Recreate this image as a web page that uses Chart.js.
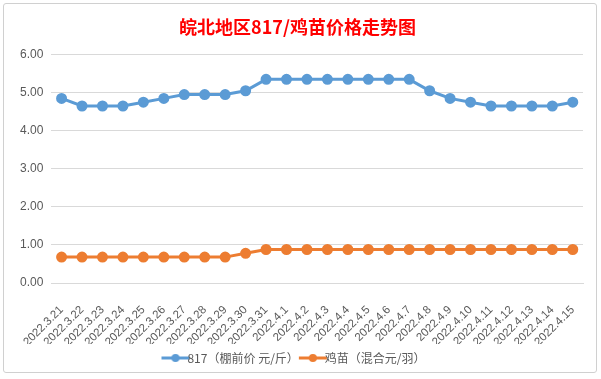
<!DOCTYPE html>
<html>
<head>
<meta charset="utf-8">
<script src="https://cdn.jsdelivr.net/npm/chart.js@4"></script>
<style>
  body { margin: 0; background: #fff; }
  #wrap { position: relative; width: 601px; height: 379px; }
  #frame { position: absolute; left: 3px; top: 3px; width: 592px; height: 368px;
           border: 1px solid #d0d0d0; border-radius: 3px; pointer-events: none; }
</style>
</head>
<body>
<div id="wrap">
  <canvas id="graph" width="601" height="379"></canvas>
  <div id="frame"></div>
</div>
<script>
var dates = ["2022.3.21", "2022.3.22", "2022.3.23", "2022.3.24", "2022.3.25", "2022.3.26",
    "2022.3.27", "2022.3.28", "2022.3.29", "2022.3.30", "2022.3.31", "2022.4.1", "2022.4.2",
    "2022.4.3", "2022.4.4", "2022.4.5", "2022.4.6", "2022.4.7", "2022.4.8", "2022.4.9",
    "2022.4.10", "2022.4.11", "2022.4.12", "2022.4.13", "2022.4.14", "2022.4.15"];

var price817 = [4.85, 4.65, 4.65, 4.65, 4.75, 4.85, 4.95, 4.95, 4.95, 5.05, 5.35, 5.35, 5.35,
    5.35, 5.35, 5.35, 5.35, 5.35, 5.05, 4.85, 4.75, 4.65, 4.65, 4.65, 4.65, 4.75];

var priceChick = [0.68, 0.68, 0.68, 0.68, 0.68, 0.68, 0.68, 0.68, 0.68, 0.78, 0.88, 0.88, 0.88,
    0.88, 0.88, 0.88, 0.88, 0.88, 0.88, 0.88, 0.88, 0.88, 0.88, 0.88, 0.88, 0.88];

var seriesNames = ["817（棚前价 元/斤）", "鸡苗（混合元/羽）"];
var titleText = "皖北地区817/鸡苗价格走势图";

var blue = "#5B9BD5";
var orange = "#ED7D31";

// legend marker: short line with a dot in the middle
function legendMarker(color) {
    var c = document.createElement("canvas");
    c.width = 30;
    c.height = 10;
    var ctx = c.getContext("2d");
    ctx.strokeStyle = color;
    ctx.lineWidth = 3;
    ctx.beginPath();
    ctx.moveTo(1, 5);
    ctx.lineTo(29, 5);
    ctx.stroke();
    ctx.fillStyle = color;
    ctx.beginPath();
    ctx.arc(15, 5, 4, 0, Math.PI * 2);
    ctx.fill();
    return c;
}

var font = "'Noto Sans CJK SC', 'Noto Sans', sans-serif";
var tickFont = "'Liberation Sans', Arial, sans-serif";

new Chart(document.getElementById("graph").getContext("2d"), {
    type: "line",
    data: {
        labels: dates,
        datasets: [{
            label: seriesNames[0],
            data: price817,
            borderColor: blue,
            backgroundColor: blue,
            borderWidth: 3,
            pointRadius: 4,
            pointHoverRadius: 4,
            tension: 0
        }, {
            label: seriesNames[1],
            data: priceChick,
            borderColor: orange,
            backgroundColor: orange,
            borderWidth: 3,
            pointRadius: 4,
            pointHoverRadius: 4,
            tension: 0
        }]
    },
    options: {
        responsive: false,
        animation: false,
        layout: { padding: { top: 10, left: 12, right: 18, bottom: 5 } },
        plugins: {
            title: {
                display: true,
                text: titleText,
                color: "#FF0000",
                font: { family: font, size: 18, weight: "bold" },
                padding: { top: 6, bottom: 17 }
            },
            legend: {
                position: "bottom",
                labels: {
                    usePointStyle: true,
                    color: "#595959",
                    font: { family: font, size: 12 },
                    padding: 8,
                    generateLabels: function (chart) {
                        return chart.data.datasets.map(function (ds, i) {
                            return {
                                text: ds.label,
                                pointStyle: legendMarker(ds.borderColor),
                                fillStyle: ds.borderColor,
                                strokeStyle: ds.borderColor,
                                lineWidth: 0,
                                fontColor: "#595959",
                                datasetIndex: i
                            };
                        });
                    }
                }
            },
            tooltip: { enabled: false }
        },
        scales: {
            x: {
                offset: true,
                grid: { display: false },
                border: { color: "#d9d9d9" },
                ticks: {
                    color: "#595959",
                    font: { family: tickFont, size: 11.5 },
                    padding: 12,
                    minRotation: 45,
                    maxRotation: 45,
                    autoSkip: false
                },
                afterFit: function (axis) {
                    axis.height = 61;
                }
            },
            y: {
                min: 0,
                max: 6,
                grid: { color: "#d9d9d9", drawTicks: false },
                border: { display: false },
                ticks: {
                    stepSize: 1,
                    padding: 8,
                    color: "#595959",
                    font: { family: tickFont, size: 12 },
                    callback: function (v) { return v.toFixed(2); }
                }
            }
        }
    }
});
</script>
</body>
</html>
